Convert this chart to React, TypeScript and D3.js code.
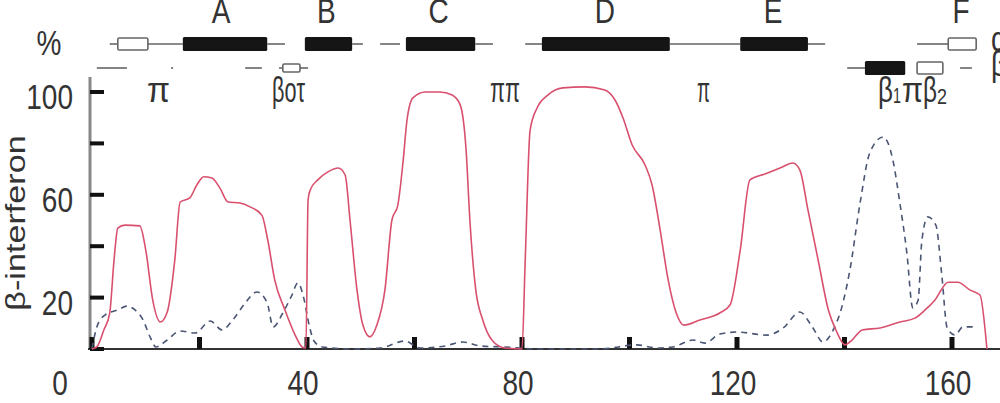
import React from "react";
import { scaleLinear, line, curveMonotoneX } from "d3";

// residue position vs % beta-interferon
const redX = [0, 0.9, 2.2, 3.3, 4.1, 4.8, 6.1, 8.9, 10, 11.3, 12.7, 14, 15.4, 16.4, 18.2, 19.5, 20.8, 22.3, 23.8, 25.3, 27.5, 29.4, 31.6, 32.7, 34, 35.9, 37.8, 39.1, 39.8, 40.2, 40.6, 42, 43.9, 45.8, 47.1, 48, 49.3, 50.4, 51.7, 53, 54.5, 55.8, 56.9, 57.9, 58.6, 59.7, 62, 64.7, 67, 68.5, 69.6, 70.3, 71.4, 72.7, 74.4, 76.8, 80, 80.6, 81.5, 82.8, 84.8, 87.6, 91.7, 95.4, 97.3, 98.8, 100.5, 102.9, 104.2, 105.7, 107.2, 108.7, 110.1, 113.1, 116.8, 118.7, 120.6, 122.4, 125.2, 128, 130.4, 131.7, 133.2, 135.1, 137, 138.4, 140.1, 141.4, 143.3, 146.6, 150.3, 153.1, 155, 156.8, 159.3, 161.1, 163.3, 165.2, 166.5];
const redY = [0, 0.8, 7.4, 14, 34.6, 47, 48.2, 47.9, 38.5, 19, 10.5, 14.4, 34.6, 57.2, 58.8, 63.8, 67, 66.5, 62.6, 57.2, 56.8, 55.3, 52.1, 42.4, 26.8, 15.2, 5.4, 0.8, 0.4, 58, 61.9, 65.8, 68.9, 70.4, 67.7, 50.2, 23, 9.3, 4.7, 9.3, 23, 50.2, 56, 73.5, 89, 97.7, 100, 100, 98.8, 95, 77.4, 50.2, 23, 11.3, 3.5, 0.4, 0, 34.6, 85, 93.8, 98.8, 101.6, 102, 100.8, 96.9, 89.9, 79.4, 71.6, 63.8, 46.3, 26.8, 14, 9.3, 11.3, 14, 17.1, 38.5, 65.8, 68.1, 70.4, 72.4, 69.6, 54.1, 34.6, 15.2, 7.4, 1.6, 3.5, 7.4, 8.2, 10.5, 12, 15.2, 19, 26, 26, 23, 21, 0];

const dashX = [0, 0.9, 2.4, 4.8, 6.5, 8, 9.5, 10.8, 11.9, 14, 16.4, 19.2, 22, 24.2, 26.2, 28.5, 30.7, 32.6, 33.7, 35.5, 37.2, 38.3, 39.4, 40.4, 41.3, 42.8, 48, 53.6, 58.2, 61, 65.7, 69, 72.2, 76.5, 83.3, 94.5, 101.4, 105.1, 108.1, 111.8, 114, 116.8, 120, 125.6, 128.6, 131.7, 134, 136, 137.9, 139.5, 141, 142.9, 144.7, 147.2, 149, 150.3, 151.6, 152.7, 153.7, 154.4, 155.5, 157, 158.1, 159.1, 160.6, 162, 164.3];
const dashY = [0, 8.6, 13.2, 15.2, 16.7, 15.2, 11.3, 4.7, 0.8, 3.5, 7, 6.2, 10.9, 7.4, 11.3, 17.9, 22.2, 17.9, 8.6, 14, 21, 25.7, 19.8, 9.3, 3.1, 0.8, 0, 0.4, 3.1, 0.4, 1.2, 2.7, 1.2, 0.8, 0, 0, 1.6, 0.4, 0.8, 3.5, 2.3, 5.8, 6.6, 5.4, 8.2, 14.4, 8.6, 2.7, 7.4, 16.3, 30.7, 56.8, 76.3, 82.5, 73.5, 56.8, 37.4, 16, 19, 42.4, 51.4, 48.2, 28.8, 8.2, 5.4, 8.6, 8.6];

const xTicks = [0, 20, 40, 60, 80, 100, 120, 140, 160];
const xTickLabels = [40, 80, 120, 160];
const yTicks = [0, 20, 40, 60, 80, 100];
const yTickLabels = [100, 60, 20];

// secondary structure map: [start, end, kind]  line | helix | open
const rowTop: [number, number, string][] = [
  [3.3, 4.8, "line"], [4.8, 10.4, "open"], [10.4, 16.9, "line"], [16.9, 32.6, "helix"], [32.6, 35.9, "line"],
  [39.6, 48.4, "helix"], [48.4, 50.4, "line"], [53.6, 57.3, "line"], [58.4, 71.3, "helix"], [71.3, 74.6, "line"],
  [80.6, 83.7, "line"], [83.7, 107.5, "helix"], [107.5, 120.6, "line"], [120.6, 133.2, "helix"], [133.2, 136.4, "line"],
  [153.5, 159.3, "line"], [159.3, 164.5, "open"],
];
const rowBottom: [number, number, string][] = [
  [0.9, 6.5, "line"], [14.7, 15.1, "line"], [28.5, 31.6, "line"], [34.8, 35.5, "line"], [35.5, 38.7, "small"], [38.7, 40.2, "line"],
  [140.5, 143.8, "line"], [143.8, 151.3, "helix"], [153.5, 158.3, "open"], [161.5, 163.7, "line"],
];
const helixNames = ["A", "B", "C", "D", "E", "F"];
const helixCenters = [24, 43.6, 64.5, 95.4, 126.7, 161.7];

const FONT = "'Liberation Sans', Arial, sans-serif";
const INK = "#333";

function T({ x, y, children, anchor = "middle", size = 28, len, rot = false }: any) {
  const tr = `translate(${x},${y}) scale(1,1.22)${rot ? " rotate(-90)" : ""}`;
  return (
    <text
      transform={tr}
      textAnchor={anchor}
      fontSize={size}
      fontFamily={FONT}
      fill={INK}
      textLength={len}
      lengthAdjust={len ? "spacingAndGlyphs" : undefined}
    >
      {children}
    </text>
  );
}

function Track({ segs, cy, x }: { segs: [number, number, string][]; cy: number; x: any }) {
  return (
    <g>
      {segs.map(([a, b, k], i) => {
        const x0 = x(a), w = x(b) - x(a);
        if (k === "line") return <line key={i} x1={x0} x2={x0 + w} y1={cy} y2={cy} stroke="#666" strokeWidth={1.6} />;
        if (k === "helix") return <rect key={i} x={x0} y={cy - 7} width={w} height={14} rx={1.5} fill="#151515" />;
        const h = k === "small" ? 8 : 12;
        return <rect key={i} x={x0} y={cy - h / 2} width={w} height={h} rx={1.5} fill="#fff" stroke="#666" strokeWidth={1.6} />;
      })}
    </g>
  );
}

export default function App() {
  const x = scaleLinear().domain([0, 160]).range([92, 952]);
  const y = scaleLinear().domain([0, 100]).range([349, 92]);

  const gen = line<number>()
    .x((d) => x(d))
    .curve(curveMonotoneX);
  const redPath = line<[number, number]>().x((d) => x(d[0])).y((d) => y(d[1])).curve(curveMonotoneX)(
    redX.map((v, i) => [v, redY[i]])
  );
  const dashPath = line<[number, number]>().x((d) => x(d[0])).y((d) => y(d[1])).curve(curveMonotoneX)(
    dashX.map((v, i) => [v, dashY[i]])
  );
  void gen;

  return (
    <svg width={1000} height={403} style={{ position: "absolute", left: 0, top: 0, background: "#fff" }}>
      {/* helix letters */}
      {helixNames.map((n, i) => (
        <T key={n} x={x(helixCenters[i])} y={23}>{n}</T>
      ))}
      <T x={49} y={55}>%</T>

      <Track segs={rowTop} cy={44} x={x} />
      <Track segs={rowBottom} cy={68} x={x} />
      <T x={991} y={51} anchor="start">α</T>
      <T x={991} y={76} anchor="start">β</T>

      {/* structure labels */}
      <T x={158.5} y={102} len={23}>π</T>
      <T x={272} y={102} anchor="start" len={33}>βoτ</T>
      <T x={505} y={102} len={30}>ππ</T>
      <T x={703.5} y={102} len={13}>π</T>
      <T x={878} y={102} anchor="start" len={15}>β</T>
      <T x={893} y={103} anchor="start" size={18} len={8}>1</T>
      <T x={902} y={102} anchor="start" len={21}>π</T>
      <T x={923} y={102} anchor="start" len={14}>β</T>
      <T x={937} y={104} anchor="start" size={18} len={10}>2</T>

      {/* axes */}
      <line x1={90} x2={90} y1={77} y2={349} stroke="#888" strokeWidth={3} />
      <line x1={88} x2={1000} y1={349} y2={349} stroke="#333" strokeWidth={2} />
      {yTicks.map((t) => (
        <rect key={t} x={90} y={y(t) - 2} width={14} height={4} fill="#111" />
      ))}
      {xTicks.map((t) => (
        <rect key={t} x={x(t) - 2.5} y={337} width={5} height={12} fill="#111" />
      ))}
      {yTickLabels.map((t) => (
        <T key={t} x={73} y={y(t) + 17} anchor="end">{t}</T>
      ))}
      <T x={60} y={395}>0</T>
      {xTickLabels.map((t) => (
        <T key={t} x={x(t) - 4} y={395}>{t}</T>
      ))}
      <T x={25} y={223} rot>β-interferon</T>

      {/* series */}
      <path d={dashPath || ""} fill="none" stroke="#4b5675" strokeWidth={1.6} strokeDasharray="6 5" />
      <path d={redPath || ""} fill="none" stroke="#d9506f" strokeWidth={1.6} />
    </svg>
  );
}
